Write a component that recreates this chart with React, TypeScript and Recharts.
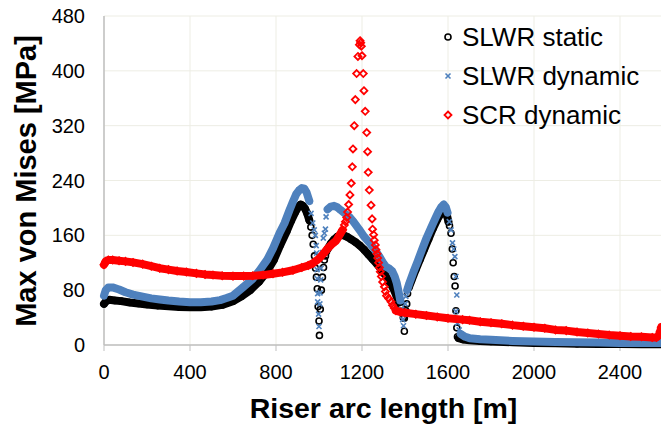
import { ScatterChart, Scatter, XAxis, YAxis, CartesianGrid, Label } from 'recharts';

const FONT = "'Liberation Sans', Arial, Helvetica, sans-serif";
const BLUE = '#4F81BD';
const RED = '#FF0000';

const xTicks = [0, 400, 800, 1200, 1600, 2000, 2400];
const yTicks = [0, 80, 160, 240, 320, 400, 480];

// [arc length m, max von Mises MPa]
// dense parts are drawn as a band, steep parts as loose markers

// SLWR static
const staticBandA = [[0, 60], [10, 64], [25, 66], [50, 65], [80, 64], [120, 62], [160, 60.5], [200, 59], [250, 57.5], [300, 56.5], [350, 55.5], [400, 55], [450, 55], [500, 56], [550, 58.5], [600, 64], [640, 71], [680, 80], [720, 92], [760, 108], [790, 124], [820, 146], [850, 166], [870, 181], [890, 194], [905, 202], [915, 205], [925, 203], [935, 199], [945, 192], [955, 182]];
const staticDropA = [[962, 172], [968, 160], [973, 147], [979, 130], [984, 112], [988, 99], [992, 82], [996, 56], [1000, 35], [1002, 14], [1006, 52], [1011, 80], [1016, 99], [1021, 113], [1025, 124], [1030, 130], [1035, 136]];
const staticBandB = [[1040, 140], [1055, 148], [1070, 154], [1085, 158], [1100, 160], [1115, 160], [1130, 158], [1150, 154], [1170, 150], [1190, 145], [1210, 139], [1230, 132], [1250, 125], [1270, 118], [1290, 110], [1310, 101], [1330, 91], [1345, 83], [1360, 72], [1372, 62]];
const staticDropB = [[1380, 55], [1385, 49], [1392, 40], [1397, 39], [1397, 20], [1404, 50], [1408, 60], [1412, 75]];
const staticBandC = [[1418, 84], [1430, 94], [1450, 110], [1470, 125], [1490, 140], [1510, 155], [1530, 170], [1550, 183], [1565, 191], [1578, 196], [1588, 194], [1596, 188], [1602, 180]];
const staticDropC = [[1607, 174], [1614, 163], [1620, 140], [1624, 120], [1629, 100], [1633, 86], [1637, 50], [1641, 25], [1644, 12]];
const staticTail = [[1650, 10], [1670, 8], [1700, 7], [1750, 6], [1800, 5], [1900, 4], [2000, 3], [2100, 2.5], [2200, 2], [2300, 1.5], [2400, 1.5], [2500, 1], [2600, 1]];

// SLWR dynamic
const dynBandA = [[0, 72], [8, 80], [20, 84], [40, 84], [70, 81], [100, 77], [135, 73.5], [180, 70.5], [220, 68], [260, 66.5], [300, 65], [350, 63.5], [400, 62.5], [450, 62.5], [500, 63.5], [540, 65.5], [570, 68.5], [600, 72], [646, 84], [690, 96], [724, 109], [760, 125], [786, 141], [816, 163], [840, 178], [863, 197], [880, 210], [894, 220], [908, 226], [920, 229], [932, 228], [943, 222], [955, 210]];
const dynDropA = [[963, 192], [971, 178], [978, 168], [983, 160], [987, 145], [989, 134], [991, 110], [991, 97], [994, 75], [994, 63], [998, 45], [1000, 27], [1004, 60], [1005, 76], [1008, 95], [1010, 112], [1015, 135], [1020, 156], [1025, 163], [1030, 169], [1033, 187]];
const dynBandB = [[1040, 198], [1055, 202], [1070, 203], [1085, 201], [1100, 197], [1120, 192], [1141, 187], [1160, 180], [1188, 168], [1210, 158], [1235, 149], [1260, 139], [1281, 129], [1300, 119], [1312, 114], [1325, 112], [1340, 108], [1352, 100], [1362, 90], [1370, 78], [1378, 65]];
const dynDropB = [[1384, 52], [1389, 37], [1393, 28], [1398, 45], [1401, 60], [1404, 71]];
const dynBandC = [[1410, 80], [1420, 90], [1440, 107], [1460, 123], [1480, 140], [1500, 156], [1520, 170], [1540, 184], [1555, 194], [1568, 201], [1580, 205], [1590, 201], [1598, 193]];
const dynDropC = [[1606, 180], [1614, 168], [1621, 149], [1627, 140], [1632, 129], [1637, 100], [1641, 73], [1637, 49], [1644, 32], [1652, 22]];
const dynTail = [[1660, 16], [1680, 12], [1700, 10], [1750, 8.5], [1800, 7.5], [1900, 6], [2000, 5], [2100, 4.5], [2200, 4], [2300, 3.5], [2400, 3], [2500, 3], [2600, 3]];

// SCR dynamic
const scrBandA = [[0, 117], [8, 122], [20, 124], [40, 124], [70, 123], [100, 122], [135, 120.5], [180, 118], [220, 115], [259, 112], [300, 110], [340, 108], [383, 106.5], [430, 104.5], [470, 103], [507, 102], [550, 101], [600, 100.5], [650, 100.5], [692, 101], [740, 102], [786, 104], [830, 106], [879, 109], [920, 113], [950, 116], [971, 119], [1000, 126], [1020, 133], [1041, 141], [1060, 147], [1079, 152], [1095, 160], [1110, 168]];
const scrPeak = [[1118, 175], [1123, 180], [1129, 186], [1133, 194], [1138, 205], [1144, 219], [1150, 236], [1155, 260], [1158, 286], [1164, 320], [1169, 358], [1175, 396], [1181, 421], [1188, 438], [1191, 444], [1194, 441], [1197, 436], [1200, 422], [1206, 396], [1209, 371], [1215, 341], [1222, 310], [1226, 282], [1229, 252], [1234, 226], [1242, 204], [1247, 184], [1249, 169], [1254, 161], [1257, 153], [1262, 146], [1265, 139], [1270, 133], [1273, 127], [1277, 120], [1281, 113], [1285, 107], [1290, 100], [1296, 92], [1304, 85], [1309, 78], [1314, 72], [1324, 68], [1335, 63], [1342, 58], [1350, 54]];
const scrBandB = [[1358, 50], [1380, 48], [1400, 47], [1450, 45], [1500, 43], [1550, 41], [1600, 39], [1668, 37], [1700, 36], [1750, 34], [1800, 32.5], [1850, 31], [1900, 29], [1950, 27.5], [2000, 26], [2050, 24.5], [2100, 22], [2150, 21], [2200, 19], [2250, 17.5], [2300, 16], [2350, 14.5], [2400, 13.5], [2450, 12.5], [2500, 12], [2550, 11], [2570, 11], [2580, 14], [2587, 20], [2592, 26]];

const pts = (a: number[][]) => a.map(([x, y]) => ({ x, y }));

const Circle = (p: any) => <circle cx={p.cx} cy={p.cy} r={3} fill="none" stroke="#000" strokeWidth={1.6} />;
const Cross = (p: any) => (
  <g stroke={BLUE} strokeWidth={1.6}>
    <line x1={p.cx - 2.5} y1={p.cy - 2.5} x2={p.cx + 2.5} y2={p.cy + 2.5} />
    <line x1={p.cx - 2.5} y1={p.cy + 2.5} x2={p.cx + 2.5} y2={p.cy - 2.5} />
  </g>
);
const Diamond = (p: any) => (
  <polygon
    points={`${p.cx},${p.cy - 3.5} ${p.cx + 3.5},${p.cy} ${p.cx},${p.cy + 3.5} ${p.cx - 3.5},${p.cy}`}
    fill="none"
    stroke={RED}
    strokeWidth={1.8}
  />
);

const band = (color: string) => ({ stroke: color, strokeWidth: 8, strokeLinejoin: 'round', strokeLinecap: 'round' });

const legendItems = [
  { name: 'SLWR static', Shape: Circle },
  { name: 'SLWR dynamic', Shape: Cross },
  { name: 'SCR dynamic', Shape: Diamond },
];

function LegendBox() {
  return (
    <div style={{ position: 'absolute', left: 441, top: 17.5, fontFamily: FONT, fontSize: 26, color: '#000' }}>
      {legendItems.map(({ name, Shape }) => (
        <div key={name} style={{ display: 'flex', alignItems: 'center', height: 39 }}>
          <svg width={14} height={14} style={{ marginRight: 7 }}>
            <Shape cx={7} cy={7} />
          </svg>
          <span>{name}</span>
        </div>
      ))}
    </div>
  );
}

export default function App() {
  const tick = { fontSize: 20, fill: '#000', fontFamily: FONT };
  return (
    <div style={{ position: 'absolute', left: 0, top: 0, width: 661, height: 424, overflow: 'hidden', background: '#fff' }}>
      <ScatterChart width={670} height={424} margin={{ top: 16, right: 7, left: 0, bottom: 0 }}>
        <CartesianGrid stroke="#EDEDE4" />
        <XAxis
          type="number"
          dataKey="x"
          domain={[0, 2600]}
          ticks={xTicks}
          height={79}
          tick={tick}
          tickSize={6}
          tickMargin={14}
          axisLine={{ stroke: '#BFBFBF', strokeWidth: 1.5 }}
          tickLine={{ stroke: '#BFBFBF' }}
        >
          <Label
            content={() => (
              <text x={383.5} y={418} textAnchor="middle" fontFamily={FONT} fontSize={28.5} fontWeight="bold" fill="#000">
                Riser arc length [m]
              </text>
            )}
          />
        </XAxis>
        <YAxis
          type="number"
          dataKey="y"
          domain={[0, 480]}
          ticks={yTicks}
          width={104}
          tick={tick}
          tickSize={0}
          tickMargin={19}
          tickLine={false}
          axisLine={{ stroke: '#BFBFBF', strokeWidth: 1.5 }}
        >
          <Label
            content={() => (
              <text x={36} y={181} transform="rotate(-90, 36, 181)" textAnchor="middle" fontFamily={FONT} fontSize={29} fontWeight="bold" fill="#000">
                Max von Mises [MPa]
              </text>
            )}
          />
        </YAxis>

        <Scatter name="SLWR static" data={pts(staticBandA)} line={band('#000')} shape={Circle} isAnimationActive={false} />
        <Scatter data={pts(staticDropA)} shape={Circle} isAnimationActive={false} />
        <Scatter data={pts(staticBandB)} line={band('#000')} shape={Circle} isAnimationActive={false} />
        <Scatter data={pts(staticDropB)} shape={Circle} isAnimationActive={false} />
        <Scatter data={pts(staticBandC)} line={band('#000')} shape={Circle} isAnimationActive={false} />
        <Scatter data={pts(staticDropC)} shape={Circle} isAnimationActive={false} />
        <Scatter data={pts(staticTail)} line={band('#000')} shape={Circle} isAnimationActive={false} />

        <Scatter name="SLWR dynamic" data={pts(dynBandA)} line={band(BLUE)} shape={Cross} isAnimationActive={false} />
        <Scatter data={pts(dynDropA)} shape={Cross} isAnimationActive={false} />
        <Scatter data={pts(dynBandB)} line={band(BLUE)} shape={Cross} isAnimationActive={false} />
        <Scatter data={pts(dynDropB)} shape={Cross} isAnimationActive={false} />
        <Scatter data={pts(dynBandC)} line={band(BLUE)} shape={Cross} isAnimationActive={false} />
        <Scatter data={pts(dynDropC)} shape={Cross} isAnimationActive={false} />
        <Scatter data={pts(dynTail)} line={band(BLUE)} shape={Cross} isAnimationActive={false} />

        <Scatter name="SCR dynamic" data={pts(scrBandA)} line={band(RED)} shape={Diamond} isAnimationActive={false} />
        <Scatter data={pts(scrPeak)} shape={Diamond} isAnimationActive={false} />
        <Scatter data={pts(scrBandB)} line={band(RED)} shape={Diamond} isAnimationActive={false} />
      </ScatterChart>
      <LegendBox />
    </div>
  );
}
